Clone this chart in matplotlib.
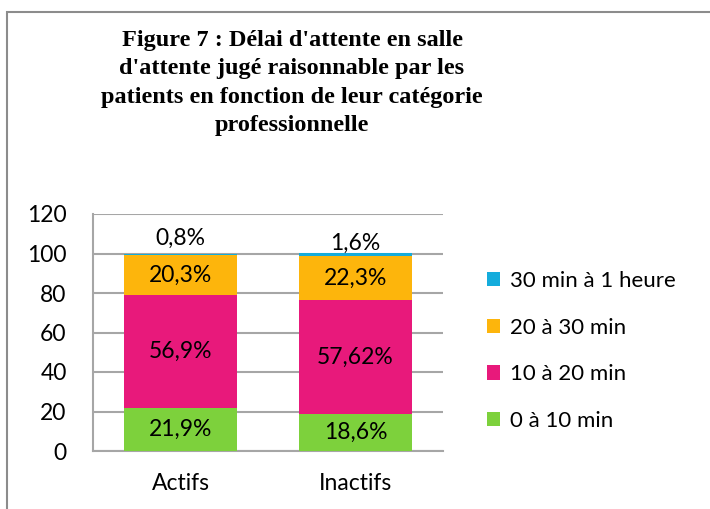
import numpy as np
import matplotlib
matplotlib.use('Agg')
import matplotlib.pyplot as plt
from matplotlib.patches import Rectangle

categories = ['Actifs', 'Inactifs']
series_names = ['0 à 10 min', '10 à 20 min', '20 à 30 min', '30 min à 1 heure']
values = {
    '0 à 10 min': [21.9, 18.6],
    '10 à 20 min': [56.9, 57.62],
    '20 à 30 min': [20.3, 22.3],
    '30 min à 1 heure': [0.8, 1.6],
}
labels = {
    '0 à 10 min': ['21,9%', '18,6%'],
    '10 à 20 min': ['56,9%', '57,62%'],
    '20 à 30 min': ['20,3%', '22,3%'],
    '30 min à 1 heure': ['0,8%', '1,6%'],
}
colors = ['#7dd13c', '#e8197b', '#fdb50c', '#14acdc']
yticks = [0, 20, 40, 60, 80, 100, 120]
title = ("Figure 7 : Délai d'attente en salle\n"
         "d'attente jugé raisonnable par les\n"
         "patients en fonction de leur catégorie\n"
         "professionnelle")

plt.rcParams['font.family'] = ['Lato', 'DejaVu Sans']
W, H = 710, 509
fig = plt.figure(figsize=(W / 100, H / 100), dpi=100)

# outer frame (cut off on right and bottom like the screenshot)
fig.patches.append(Rectangle((7 / W, -0.1), 1.2, (H - 12) / H + 0.1,
                             transform=fig.transFigure, fill=False,
                             edgecolor='#8c8c8c', linewidth=1.5))

ax = fig.add_axes([93 / W, (H - 451) / H, (443 - 93) / W, (451 - 214) / H])
x = np.arange(len(categories))
bottom = np.zeros(len(categories))
for name, col in zip(series_names, colors):
    v = np.array(values[name])
    ax.bar(x, v, 0.645, bottom=bottom, color=col, label=name, zorder=3)
    if name == '30 min à 1 heure':
        offs = [8, 5]
        for i in range(len(x)):
            ax.text(x[i], bottom[i] + v[i] + offs[i], labels[name][i],
                    ha='center', va='center', fontsize=16.5, zorder=4)
    else:
        for i in range(len(x)):
            ax.text(x[i], bottom[i] + v[i] / 2, labels[name][i],
                    ha='center', va='center', fontsize=16.5, zorder=4)
    bottom += v

ax.set_xlim(-0.5, 1.5)
ax.set_ylim(0, 120)
ax.set_yticks(yticks)
ax.set_xticks(x)
ax.set_xticklabels(categories)
ax.tick_params(axis='both', length=0, labelsize=16.5)
ax.tick_params(axis='y', pad=19)
ax.tick_params(axis='x', pad=16)
ax.grid(axis='y', color='#a6a6a6', linewidth=1.5, zorder=0)
for s in ['top', 'right']:
    ax.spines[s].set_visible(False)
for s in ['left', 'bottom']:
    ax.spines[s].set_color('#a6a6a6')
    ax.spines[s].set_linewidth(1.5)

h, l = ax.get_legend_handles_labels()
fig.legend(h[::-1], l[::-1], loc='center left',
           bbox_to_anchor=(467 / W, (H - 351) / H), frameon=False,
           fontsize=16, handlelength=0.6, handleheight=0.6,
           handletextpad=0.45, labelspacing=1.2)

fig.text(292 / W, (H - 83) / H, title, ha='center', va='center',
         family='Liberation Serif', fontweight='bold', fontsize=17.5,
         linespacing=1.47)

fig.savefig('out.png', dpi=100)
